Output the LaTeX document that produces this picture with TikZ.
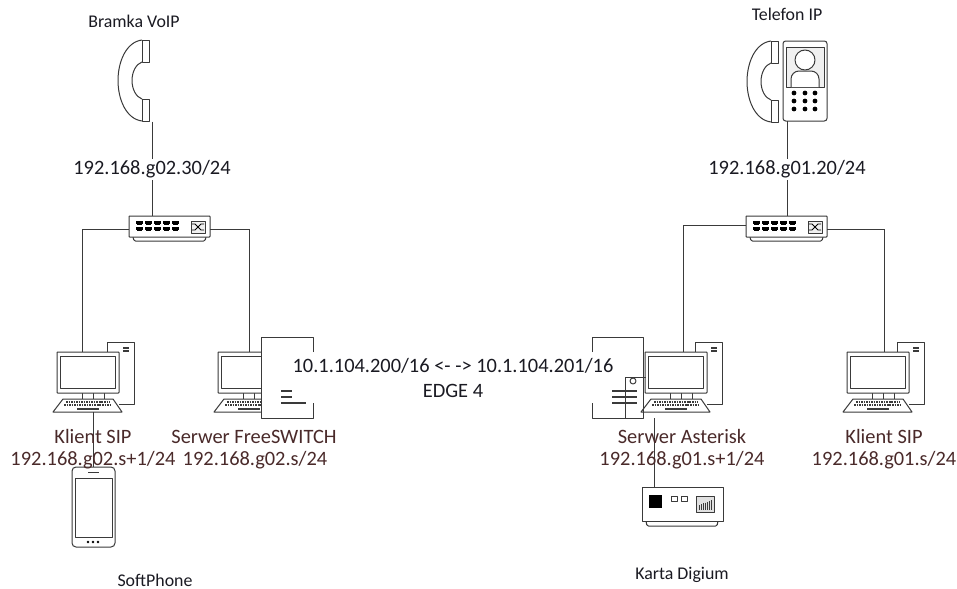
\documentclass[tikz,border=0pt]{standalone}
\usepackage{fontspec}
\setmainfont{Carlito}
\definecolor{ln}{HTML}{3A3A3A}
\definecolor{lbl}{HTML}{4A2A2A}
\definecolor{ink}{HTML}{1A1A22}
\tikzset{
  anch/.style={inner sep=0pt,outer sep=0pt,minimum width=#1},
  wire/.style={draw=ln,line width=0.75pt},
  icon/.style={draw=ln,line width=0.75pt,line join=round},
  biglabel/.style={font=\fontsize{15.3}{18}\selectfont,text=lbl,inner sep=0pt},
  iplabel/.style={font=\fontsize{15.3}{18}\selectfont,text=ink,fill=white,inner sep=1.5pt},
  smalllabel/.style={font=\fontsize{13.4}{15}\selectfont,text=ink,inner sep=0pt},
  computer/.pic={
    \path[icon] (50,10)--(50,0)--(77,0)--(77,62)--(62,62);
    \draw[icon,line width=1.2pt] (66,6)--(72,6) (66,9)--(72,9);
    \draw[icon] (25,51)--(25,57) (36,51)--(36,57) (47,51)--(47,57);
    \draw[icon,fill=white,rounded corners=0.5pt] (0,10) rectangle (62,51);
    \draw[icon] (3.5,14) rectangle (58.5,46);
    \draw[icon,fill=white] (-4,70)--(6,57)--(56,57)--(65,70)--cycle;
    \draw[ln,line width=1.4pt,dash pattern=on 1.2pt off 0.7pt] (9,60.3)--(53,60.3) (7,63)--(55,63);
    \draw[ln,line width=1.5pt] (20,66.5)--(42,66.5);
    \node[anch=62,minimum height=41*0.75pt] (-mon) at (31,30.5) {};
  },
  netswitch/.pic={
    \draw[icon,rounded corners=1pt] (4,21)--(5,25)--(76,25)--(77,21);
    \draw[icon,fill=white,rounded corners=0.5pt] (0,0) rectangle (81,21);
    \foreach \i in {0,1,2,3,4}{
      \fill[black] (7+9*\i,5) rectangle ++(6.5,3.2);
      \fill[black] (7+9*\i+1,8.2) rectangle ++(4.5,1);
      \fill[black] (7+9*\i,11) rectangle ++(6.5,3.2);
      \fill[black] (7+9*\i+1,14.2) rectangle ++(4.5,1);
    }
    \draw[icon,fill=black!6,line width=0.6pt] (62,5) rectangle (76,17);
    \draw[black,line width=0.7pt] (63,8)--(66,8)--(72,14)--(75,14) (63,14)--(66,14)--(72,8)--(75,8);
    \node[anch=81,minimum height=21*0.75pt] (-body) at (40.5,10.5) {};
  },
  handset/.pic={
    \draw[icon] (0,0)--(7,0)--(7,22)--(0,22)--cycle (0,59)--(7,59)--(7,81)--(0,81)--cycle;
    \draw[icon] (0,0) .. controls (-16,2) and (-24,22) .. (-24,40.5) .. controls (-24,59) and (-16,79) .. (0,81);
    \draw[icon] (0,22) .. controls (-6,24) and (-10,32) .. (-10,40.5) .. controls (-10,49) and (-6,57) .. (0,59);
  }
}
\begin{document}
\begin{tikzpicture}[x=0.75pt,y=-0.75pt]
\useasboundingbox[fill=white] (0,0) rectangle (957,589);

% handsets and IP phone
\pic at (142,40) {handset};
\node[anch=1,minimum height=1pt] (gw) at (152,121) {};
\pic at (771,41) {handset};
\draw[icon,rounded corners=2pt] (783,41) rectangle (827,121);
\draw[icon,fill=black!6] (786,47) rectangle (824,87);
\draw[icon,fill=white] (805,60) circle (10);
\draw[icon,fill=white,rounded corners=6pt] (791,87)--(791,71)--(819,71)--(819,87);
\foreach \yy in {93,101,109}\foreach \xx in {794,805,815}{\fill[black] (\xx,\yy) circle (2.4);}
\node[anch=44,minimum height=60pt] (ipphone) at (805,81) {};

% switches
\pic (swa) at (129,216) {netswitch};
\pic (swb) at (746,216) {netswitch};

% computers
\pic (pca) at (57,342) {computer};
\pic (pcb) at (218,342) {computer};
\pic (pcc) at (645,342) {computer};
\pic (pcd) at (847,342) {computer};

% FreeSWITCH box
\fill[white] (261,337) rectangle (313,418);
\draw[icon] (313,352)--(313,337)--(261,337)--(261,418)--(313,418)--(313,403);
\draw[ln,line width=0.9pt] (281,391)--(292,391) (281,397)--(292,397) (281,403)--(306,403);
\node[anch=52,minimum height=60pt] (fsbox) at (287,377.5) {};

% Asterisk box
\draw[icon] (592,352)--(592,337)--(643,337)--(643,418)--(592,418)--(592,403);
\draw[icon] (646,377)--(625,377)--(625,418);
\draw[icon] (633,381) circle (3);
\draw[ln,line width=1.1pt] (612,391)--(637,391) (612,397)--(637,397) (612,403)--(637,403);

% mobile
\draw[icon,rounded corners=3pt] (72,467) rectangle (115,547);
\node[anch=43,minimum height=60pt] (mobile) at (93.5,507) {};
\draw[icon] (75,478) rectangle (112,537);
\draw[icon] (88,472)--(99,472);
\foreach \xx in {88,93,98}{\fill[black] (\xx,542) circle (1.3);}

% Digium card
\draw[icon,rounded corners=1pt] (646,521)--(647,526)--(717,526)--(718,521);
\draw[icon,fill=white] (642,487) rectangle (723,521);
\node[anch=81,minimum height=25.5pt] (digium) at (682.5,504) {};
\fill[black] (649,495) rectangle (662,508);
\draw[icon,line width=0.6pt] (671,496) rectangle (677,501) (681,496) rectangle (687,501);
\draw[icon,fill=black!12] (696,496) rectangle (714,512);
\foreach \xx in {699,701,703,705,707,709,711}{\draw[ln,line width=0.5pt] (\xx,{505-(\xx-699)*0.4}) -- (\xx,510);}

% connector ends
\coordinate (ta) at (82,352);
\coordinate (tb) at (249,352);
\coordinate (tc) at (683,352);
\coordinate (td) at (884,352);
\coordinate (swaL) at (129,229);
\coordinate (swaR) at (210,229);
\coordinate (swbL) at (746,225);
\coordinate (swbR) at (827,229);
\coordinate (swaT) at (152,216);
\coordinate (swbT) at (787,216);
\coordinate (phoneB) at (787,121);
\coordinate (pcaB) at (93,412);
\coordinate (mobT) at (93,467);
\coordinate (astB) at (654,418);
\coordinate (digT) at (654,487);

% connectors
\draw[wire] (swaL) -| (ta);
\draw[wire] (swaR) -| (tb);
\draw[wire] (swbL) -| (tc);
\draw[wire] (swbR) -| (td);
\draw[wire] (gw) -- (swaT);
\draw[wire] (phoneB) -- (swbT);
\draw[wire] (pcaB) -- (mobT);
\draw[wire] (astB) -- (digT);

% labels
\node[smalllabel] (t1) at (134,21.5) {Bramka VoIP};
\node[smalllabel] (t2) at (787,14.5) {Telefon IP};
\node[iplabel] (t3) at (152,169.5) {192.168.g02.30/24};
\node[iplabel] (t4) at (787,169.5) {192.168.g01.20/24};
\node[biglabel] (t5) at (93,436.5) {Klient SIP};
\node[biglabel] (t6) at (93,460.5) {192.168.g02.s+1/24};
\node[biglabel] (t7) at (254,436.5) {Serwer FreeSWITCH};
\node[biglabel] (t8) at (255,460.5) {192.168.g02.s/24};
\node[biglabel] (t9) at (682,436.5) {Serwer Asterisk};
\node[biglabel] (t10) at (682,460.5) {192.168.g01.s+1/24};
\node[biglabel] (t11) at (884,436.5) {Klient SIP};
\node[biglabel] (t12) at (884,460.5) {192.168.g01.s/24};
\node[biglabel,text=ink] (t13) at (453,365.5) {10.1.104.200/16 <- -> 10.1.104.201/16};
\node[biglabel,text=ink] (t14) at (453,390.5) {EDGE 4};
\node[smalllabel] (t15) at (155,580) {SoftPhone};
\node[smalllabel] (t16) at (682,575) {Karta Digium};
\end{tikzpicture}
\end{document}
